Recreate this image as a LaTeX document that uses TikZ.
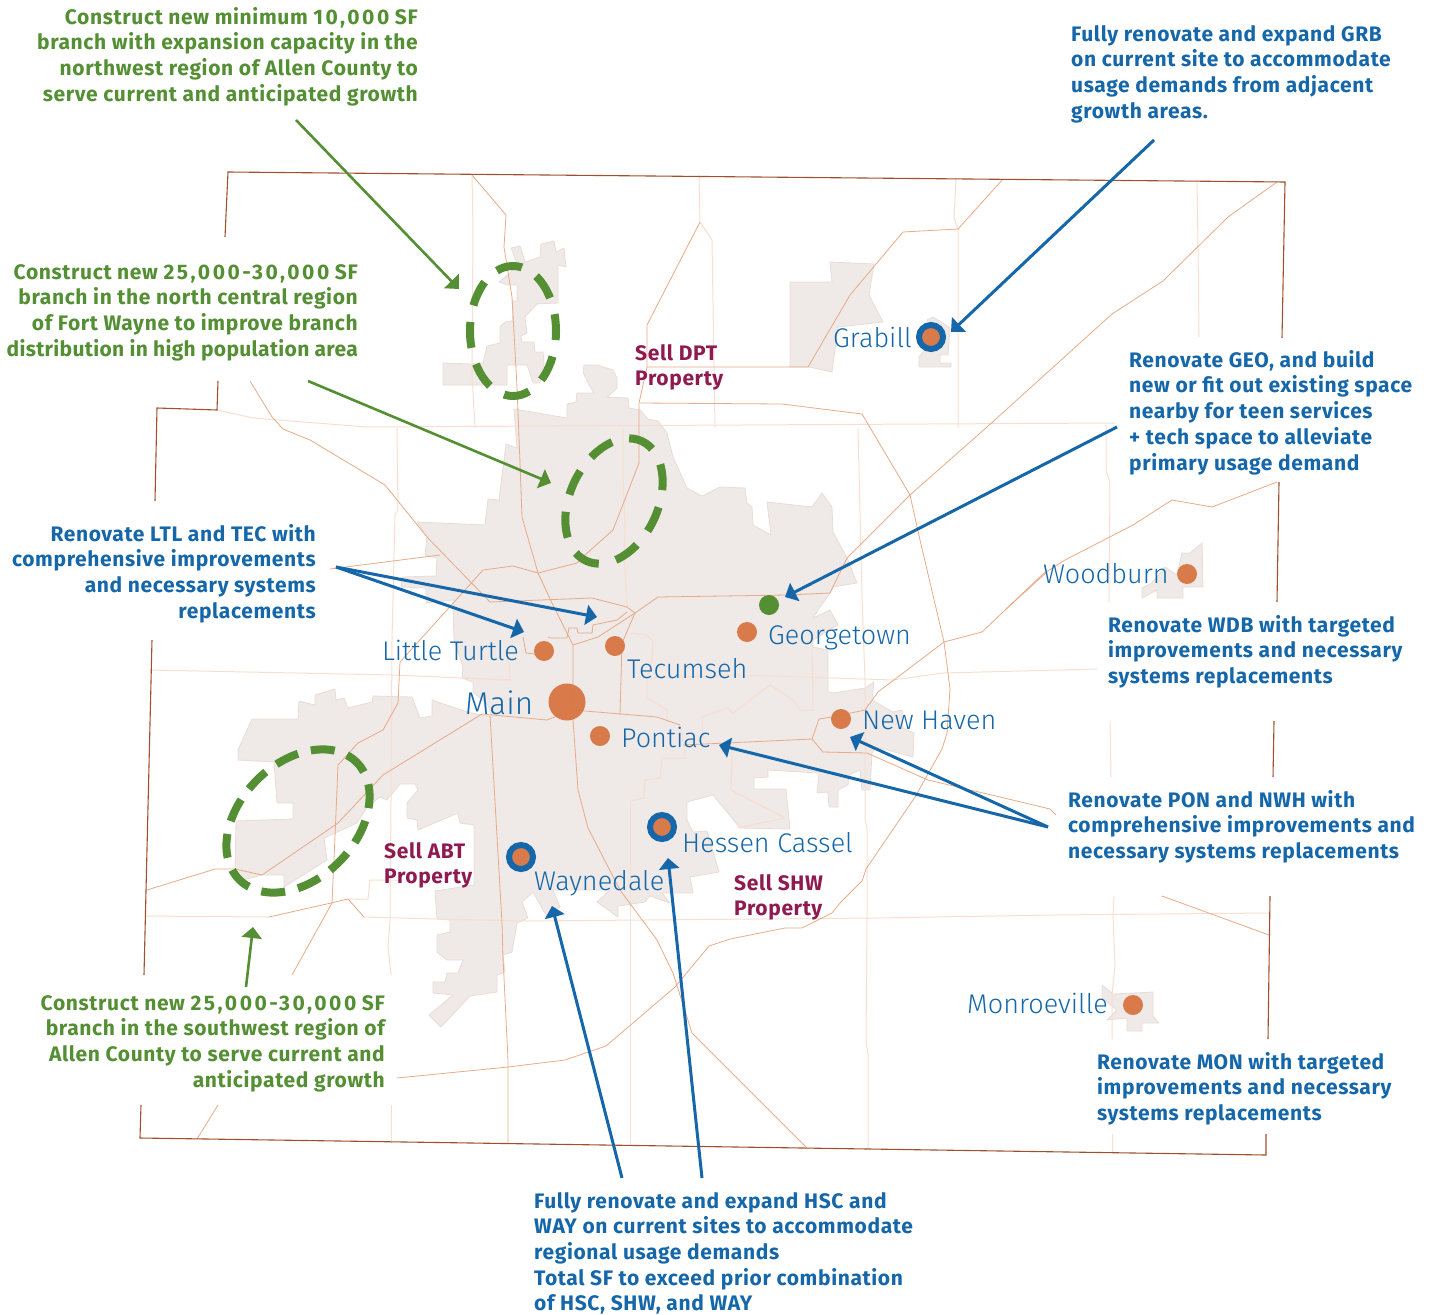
\documentclass[tikz,border=0pt]{standalone}
\usepackage{fontspec}
\setmainfont{Fira Sans}[LetterSpace=3]
\newfontfamily\placefont{Fira Sans Light}
\usetikzlibrary{arrows.meta}
\definecolor{land}{RGB}{239, 233, 231}
\definecolor{landedge}{RGB}{234, 220, 213}
\definecolor{road}{RGB}{232, 170, 135}
\definecolor{paleroad}{RGB}{248, 222, 208}
\definecolor{border}{RGB}{160, 80, 45}
\definecolor{branch}{RGB}{216, 117, 67}
\definecolor{bluenote}{RGB}{21, 103, 169}
\definecolor{greennote}{RGB}{84, 143, 52}
\definecolor{sellnote}{RGB}{142, 26, 80}
\newcommand\widenum[1]{{\addfontfeatures{LetterSpace=12}#1}}
\newcommand\tightline[1]{{\addfontfeatures{LetterSpace=1.5}#1}}
\tikzset{
	town/.style={fill=land,draw=landedge,line width=0.8pt,line join=round},
	roadline/.style={draw=road,line width=0.8pt,line join=round},
	paleline/.style={draw=paleroad,line width=1pt,line join=round},
	borderline/.style={draw=border,line width=1.1pt},
	region/.style={draw=greennote,line width=8pt},
	dot/.style={circle,fill=branch,inner sep=0pt,minimum size=20pt,fill opacity=0.95},
	ringdot/.style={dot,draw=bluenote,line width=6pt,minimum size=24pt},
	place/.style={font=\placefont\fontsize{27}{32}\selectfont,text=bluenote,inner sep=0pt},
	note/.style={font=\fontsize{21}{25.7}\selectfont\bfseries,inner sep=0pt},
	bluenoteleft/.style={note,text=bluenote,align=left,anchor=north west},
	bluenoteright/.style={note,text=bluenote,align=right,anchor=north east},
	greennoteright/.style={note,text=greennote,align=right,anchor=north east},
	sell/.style={note,text=sellnote,align=left,anchor=north west},
	bluearrow/.style={draw=bluenote,line width=3pt,-{Triangle[length=11pt,width=20pt]}},
	greenarrow/.style={draw=greennote,line width=2.6pt,-{Triangle[length=11pt,width=20pt]}},
}
\begin{document}
\begin{tikzpicture}[x=1pt,y=-1pt]
\useasboundingbox (0,0) rectangle (1434,1314);
% towns
\path[town] (514,409)--(567,418)--(567,404)--(576,402)--(577,393)--(594,393)--(588,383)--(583,372)--(584,365)--(597,365)--(613,370)--(617,378)--(617,388)--(607,397)--(628,398)--(629,408)--(640,410)--(648,419)--(658,421)--(667,433)--(673,457)--(687,488)--(702,496)--(720,487)--(745,488)--(747,503)--(752,507)--(753,525)--(771,535)--(767,502)--(812,507)--(822,493)--(832,507)--(833,532)--(847,558)--(857,583)--(833,587)--(830,593)--(818,610)--(813,618)--(830,610)--(838,625)--(813,640)--(813,647)--(828,650)--(828,692)--(833,693)--(865,688)--(874,682)--(872,700)--(893,712)--(902,710)--(903,728)--(914,733)--(913,757)--(876,747)--(872,753)--(870,790)--(862,790)--(860,770)--(849,775)--(848,785)--(838,790)--(838,807)--(829,807)--(828,792)--(817,793)--(819,773)--(768,770)--(768,777)--(754,778)--(754,789)--(786,789)--(790,829)--(740,828)--(713,795)--(687,802)--(687,820)--(693,832)--(707,831)--(719,872)--(690,877)--(693,893)--(662,893)--(670,903)--(650,896)--(645,902)--(618,906)--(618,917)--(597,902)--(610,890)--(553,890)--(560,907)--(547,917)--(533,892)--(522,902)--(528,918)--(517,923)--(512,952)--(503,955)--(505,972)--(497,975)--(497,992)--(470,996)--(441,1027)--(429,1015)--(453,995)--(433,993)--(433,982)--(445,982)--(447,973)--(458,973)--(463,960)--(447,960)--(437,952)--(437,935)--(450,932)--(450,920)--(437,919)--(435,891)--(474,885)--(474,825)--(460,823)--(458,813)--(418,830)--(417,820)--(407,818)--(407,803)--(418,790)--(415,784)--(400,784)--(387,800)--(380,797)--(367,807)--(357,823)--(324,838)--(327,860)--(284,887)--(284,875)--(262,875)--(243,880)--(235,868)--(236,821)--(293,819)--(293,803)--(277,803)--(274,762)--(238,760)--(238,750)--(252,719)--(298,719)--(299,701)--(315,705)--(315,695)--(335,689)--(336,700)--(344,698)--(348,708)--(372,702)--(373,696)--(412,697)--(420,718)--(432,716)--(432,700)--(467,712)--(492,717)--(488,705)--(473,692)--(473,682)--(462,678)--(463,667)--(454,640)--(453,608)--(453,600)--(426,603)--(426,588)--(401,587)--(402,577)--(436,576)--(437,558)--(425,555)--(427,537)--(417,522)--(485,525)--(488,499)--(499,500)--(506,444)--(517,448)--cycle;
\path[town] (443,363)--(472,364)--(483,363)--(487,346)--(500,343)--(500,327)--(505,322)--(512,321)--(513,313)--(512,301)--(517,301)--(517,285)--(508,285)--(499,282)--(510,273)--(517,263)--(511,248)--(520,246)--(525,262)--(540,257)--(541,244)--(554,241)--(556,252)--(564,248)--(566,267)--(558,265)--(558,303)--(537,304)--(525,317)--(527,333)--(521,336)--(522,342)--(534,342)--(535,352)--(543,352)--(544,363)--(540,383)--(533,383)--(527,365)--(507,365)--(507,385)--(443,385)--cycle;
\path[town] (790,282)--(832,282)--(830,262)--(874,264)--(869,295)--(883,322)--(838,327)--(832,372)--(809,367)--(790,367)--cycle;
\path[town] (933,317)--(950,328)--(948,355)--(940,355)--(940,363)--(951,363)--(951,367)--(919,367)--(919,357)--(927,347)--(927,320)--cycle;
\path[town] (1182,553)--(1190,553)--(1202,543)--(1203,587)--(1183,587)--(1183,598)--(1157,598)--(1157,590)--(1142,598)--(1142,588)--(1152,583)--(1165,567)--(1177,575)--cycle;
\path[town] (1102,985)--(1113,994)--(1153,992)--(1153,1016)--(1159,1023)--(1142,1023)--(1142,1031)--(1127,1031)--(1127,1018)--(1107,1020)--(1117,1010)--(1102,998)--cycle;
% pale roads
\draw[paleline] (217,410)--(253,418)--(367,427)--(1115,423);
\draw[paleline] (150,670)--(392,675)--(510,680);
\draw[paleline] (648,678)--(743,675)--(893,680)--(943,673)--(1097,669);
\draw[paleline] (146,916)--(269,917);
\draw[paleline] (364,917)--(436,919)--(527,921)--(876,918)--(1053,915)--(1270,913);
\draw[paleline] (472,175)--(473,230)--(472,373)--(475,428);
\draw[paleline] (699,175)--(700,222)--(712,240)--(715,428);
\draw[paleline] (956,178)--(954,218)--(958,229)--(958,428);
\draw[paleline] (1197,180)--(1198,247)--(1199,337);
\draw[paleline] (397,428)--(398,510)--(395,515)--(392,640)--(391,800)--(390,920)--(388,947)--(391,975);
\draw[paleline] (391,1105)--(391,1143);
\draw[paleline] (858,428)--(862,597)--(865,680)--(865,820)--(867,827)--(867,917)--(866,1042)--(868,1054)--(868,1148);
\draw[paleline] (1106,425)--(1106,470)--(1110,483)--(1109,603);
\draw[paleline] (1110,721)--(1111,777);
\draw[paleline] (1114,896)--(1113,915)--(1115,966)--(1112,994)--(1112,1039);
\draw[paleline] (1112,1134)--(1112,1152);
\draw[paleline] (630,801)--(630,1145);
\draw[paleline] (623,428)--(623,477)--(625,530)--(624,550)--(627,608);
\draw[paleline] (702,717)--(703,737);
\draw[paleline] (702,717)--(727,708)--(733,713)--(770,685)--(793,700)--(800,710)--(813,710)--(812,640);
\draw[paleline] (732,750)--(731,790)--(785,818)--(738,828);
\draw[paleline] (462,678)--(510,680)--(509,663)--(505,650);
\draw[paleline] (347,899)--(368,899)--(370,880)--(400,880);
\draw[paleline] (680,725)--(684,745)--(685,758)--(662,758)--(660,778)--(645,780)--(644,798)--(630,801);
\draw[paleline] (629,633)--(647,635)--(653,642)--(652,660)--(647,678)--(647,698)--(667,710)--(667,720);
% roads
\draw[roadline] (472,175)--(506,215)--(504,247)--(512,297)--(517,387)--(520,463)--(522,517)--(538,573)--(552,603)--(573,645)--(573,720)--(578,790)--(588,828)--(620,890)--(657,940)--(673,973)--(692,1033)--(807,1148);
\draw[roadline] (700,222)--(647,325)--(647,367)--(639,403)--(639,463)--(613,530)--(585,555)--(577,563)--(538,573)--(513,566)--(483,570)--(400,662)--(398,703)--(383,730)--(358,743)--(338,765)--(335,837)--(332,903)--(292,975);
\draw[roadline] (640,403)--(782,404)--(862,414)--(910,495)--(920,540)--(944,642)--(950,689)--(947,733)--(942,749)--(915,797)--(866,869)--(862,881)--(840,903)--(832,913)--(802,928)--(785,928)--(730,939)--(709,946)--(675,987)--(606,1046)--(565,1060)--(508,1067)--(397,1078);
\draw[roadline] (647,367)--(808,367)--(850,295)--(903,232)--(958,229)--(1003,179);
\draw[roadline] (250,381)--(272,417)--(283,429)--(310,440)--(385,485)--(427,537)--(490,602)--(592,598)--(627,607)--(635,613);
\draw[roadline] (330,569)--(440,555);
\draw[roadline] (635,613)--(658,597)--(787,595)--(830,593)--(847,558)--(910,495)--(987,427)--(1112,314)--(1163,281)--(1228,217)--(1277,182);
\draw[roadline] (635,613)--(598,637)--(573,645);
\draw[roadline] (635,613)--(622,643)--(620,715);
\draw[roadline] (147,890)--(215,869)--(235,869)--(262,875)--(338,823)--(383,775)--(482,714)--(547,720)--(573,710)--(657,717)--(680,725);
\draw[roadline] (683,745)--(812,739)--(819,719)--(832,717)--(865,710)--(878,692)--(944,642)--(982,632)--(1043,574)--(1065,560)--(1133,525)--(1172,500)--(1212,507)--(1277,482);
\draw[roadline] (812,739)--(823,752)--(867,753)--(928,780)--(1000,797)--(1050,809)--(1056,815);
\draw[roadline] (269,917)--(331,903)--(348,899)--(364,917);
\draw[roadline] (490,715)--(502,923)--(503,957)--(508,1060)--(508,1144);
\draw[roadline] (1005,610)--(1047,572);
\draw[roadline] (1162,896)--(1269,935);
\draw[roadline] (218,1105)--(197,1139);
\draw[roadline] (568,628)--(577,628)--(578,633)--(592,633)--(593,625)--(617,620)--(627,612);
\draw[roadline] (548,637)--(550,638)--(567,638)--(569,628);
\draw[roadline] (523,637)--(526,653)--(535,654);
% county line
\draw[borderline] (225,237)--(228,172)--(1285,182)--(1282,338);
\draw[borderline] (218,381)--(217,410)--(157,408)--(155,501);
\draw[borderline] (152,640)--(144,975);
\draw[borderline] (141,1105)--(140,1138)--(1266,1155)--(1266,1134);
\draw[borderline] (1268,1039)--(1270,896);
\draw[borderline] (1273,777)--(1274,721);
\draw[borderline] (1277,602)--(1279,482);
% new branch regions
\draw[region,dash pattern=on 26pt off 16.85pt,dash phase=17pt] (513,331) ellipse [x radius=43,y radius=65];
\draw[region,dash pattern=on 26pt off 17.6pt,dash phase=13pt,rotate around={-25:(614,501)}] (614,501) ellipse [x radius=44,y radius=66];
\draw[region,dash pattern=on 24pt off 13.2pt,dash phase=12pt,rotate around={45:(298,821)}] (298,821) ellipse [x radius=83,y radius=58];
% branches
\foreach \Name/\Xpos/\Ypos in {ltl/544/651, tec/615/646, geo/747/632, pon/600/736, nwh/841/719, wdb/1187/574, mon/1133/1005}{
	\node[dot] (\Name) at (\Xpos,\Ypos) {};}
\foreach \Name/\Xpos/\Ypos in {grb/931/337, hsc/662/827, way/521/857}{
	\node[ringdot] (\Name) at (\Xpos,\Ypos) {};}
\node[dot,minimum size=37pt] (main) at (567,702) {};
\node[dot,fill=greennote,fill opacity=1] (teen) at (769,605) {};
% place names
\node[place,anchor=base east] (grbname) at (912,347) {Grabill};
\node[place,anchor=base west] (wdbname) at (1043,583) {Woodburn};
\node[place,anchor=base west] (geoname) at (768,644) {Georgetown};
\node[place,anchor=base east] (ltlname) at (519,660) {Little Turtle};
\node[place,anchor=base west] (tecname) at (627,678) {Tecumseh};
\node[place,anchor=base west,font=\placefont\fontsize{31.5}{36}\selectfont] (mainname) at (465,714) {Main};
\node[place,anchor=base west] (ponname) at (621,747) {Pontiac};
\node[place,anchor=base west] (nwhname) at (862,729) {New Haven};
\node[place,anchor=base west] (hscname) at (682,852) {Hessen Cassel};
\node[place,anchor=base west] (wayname) at (534,890) {Waynedale};
\node[place,anchor=base east] (monname) at (1108,1013) {Monroeville};
% notes
\node[greennoteright] (northwest) at (418,7) {Construct new minimum \widenum{10,000} SF\\branch with expansion capacity in the\\northwest region of Allen County to\\serve current and anticipated growth};
\node[greennoteright] (northcentral) at (358,264) {Construct new \widenum{25,000-30,000} SF\\branch in the north central region\\of Fort Wayne to improve branch\\\tightline{distribution in high population area}};
\node[greennoteright] (southwest) at (385,995) {Construct new \widenum{25,000-30,000} SF\\branch in the southwest region of\\Allen County to serve current and\\anticipated growth};
\node[bluenoteright] (ltltec) at (316,524) {Renovate LTL and TEC with\\comprehensive improvements\\and necessary systems\\replacements};
\node[bluenoteleft] (grbnote) at (1071,25) {Fully renovate and expand GRB\\on current site to accommodate\\usage demands from adjacent\\growth areas.};
\node[bluenoteleft] (geonote) at (1129,350) {Renovate GEO, and build\\new or fit out existing space\\nearby for teen services\\+ tech space to alleviate\\primary usage demand};
\node[bluenoteleft] (wdbnote) at (1108,615) {Renovate WDB with targeted\\improvements and necessary\\systems replacements};
\node[bluenoteleft] (ponnwh) at (1068,790) {Renovate PON and NWH with\\comprehensive improvements and\\necessary systems replacements};
\node[bluenoteleft] (monnote) at (1097,1052) {Renovate MON with targeted\\improvements and necessary\\systems replacements};
\node[bluenoteleft] (hscway) at (534,1192) {Fully renovate and expand HSC and\\WAY on current sites to accommodate\\regional usage demands\\Total SF to exceed prior combination\\of HSC, SHW, and WAY};
\node[sell] (selldpt) at (635,344) {Sell DPT\\Property};
\node[sell] (sellabt) at (384,842) {Sell ABT\\Property};
\node[sell] (sellshw) at (734,874) {Sell SHW\\Property};
% arrows
\coordinate (nwstart) at (296,120);
\coordinate (nwtip) at (459,289);
\coordinate (ncstart) at (308,381);
\coordinate (nctip) at (551,483);
\coordinate (swstart) at (246,987);
\coordinate (swtip) at (253,927);
\coordinate (grbstart) at (1154,140);
\coordinate (grbtip) at (951,332);
\coordinate (geostart) at (1117,427);
\coordinate (geotip) at (785,597);
\coordinate (ltlstart) at (336,567);
\coordinate (ltltip) at (524,632);
\coordinate (tectip) at (597,617);
\coordinate (ponstart) at (1048,827);
\coordinate (nwhtip) at (850,737);
\coordinate (pontip) at (719,745);
\coordinate (waystart) at (622,1178);
\coordinate (waytip) at (552,906);
\coordinate (hscstart) at (702,1178);
\coordinate (hsctip) at (668,858);
\draw[greenarrow] (nwstart) -- (nwtip);
\draw[greenarrow] (ncstart) -- (nctip);
\draw[greenarrow] (swstart) -- (swtip);
\draw[bluearrow] (grbstart) -- (grbtip);
\draw[bluearrow] (geostart) -- (geotip);
\draw[bluearrow] (ltlstart) -- (ltltip);
\draw[bluearrow] (ltlstart) -- (tectip);
\draw[bluearrow] (ponstart) -- (nwhtip);
\draw[bluearrow] (ponstart) -- (pontip);
\draw[bluearrow] (waystart) -- (waytip);
\draw[bluearrow] (hscstart) -- (hsctip);
\end{tikzpicture}
\end{document}
